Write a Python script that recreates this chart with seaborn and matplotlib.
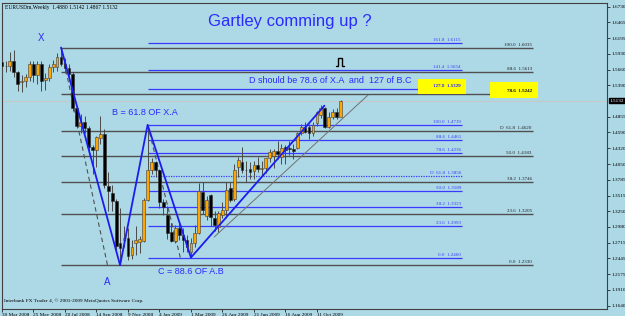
import matplotlib
matplotlib.use("Agg")
import matplotlib.pyplot as plt
import seaborn as sns
import pandas as pd
import numpy as np
from matplotlib.patches import Rectangle

# ---------------- data ----------------
opens = [1.5790, 1.5720, 1.5720, 1.5810, 1.5620, 1.5440, 1.5470, 1.5530, 1.5760, 1.5560,
         1.5760, 1.5480, 1.5520, 1.5700, 1.5700, 1.5880, 1.5760, 1.5680, 1.5580, 1.5010,
         1.4700, 1.4770, 1.4670, 1.4340, 1.4290, 1.4490, 1.4560, 1.3680, 1.3560, 1.3420,
         1.2700, 1.2760, 1.2800, 1.2500, 1.2700, 1.2720, 1.2740, 1.3440, 1.3950, 1.4090,
         1.3950, 1.3400, 1.3180, 1.2900, 1.2740, 1.2960, 1.2840, 1.2760, 1.2560, 1.2710,
         1.2880, 1.3570, 1.3160, 1.3520, 1.3130, 1.2980, 1.3190, 1.3270, 1.3640, 1.3450,
         1.4000, 1.4090, 1.3950, 1.3960, 1.3940, 1.4030, 1.3960, 1.3990, 1.4160, 1.4180,
         1.4280, 1.4170, 1.4340, 1.4330, 1.4310, 1.4330, 1.4580, 1.4680, 1.4680, 1.4580,
         1.4750, 1.4890, 1.5000, 1.4680, 1.4860, 1.4940, 1.4860]
highs = [1.5830, 1.5800, 1.5960, 1.6000, 1.5640, 1.5560, 1.5590, 1.5800, 1.5810, 1.5800,
         1.5810, 1.5600, 1.5760, 1.5830, 1.5950, 1.6035, 1.5860, 1.5760, 1.5620, 1.5040,
         1.4900, 1.4870, 1.4700, 1.4370, 1.4530, 1.4867, 1.4640, 1.3920, 1.3690, 1.3460,
         1.3300, 1.3000, 1.2960, 1.2760, 1.3000, 1.2820, 1.3480, 1.4719, 1.4160, 1.4110,
         1.3970, 1.3460, 1.3330, 1.3050, 1.3020, 1.3050, 1.2960, 1.2850, 1.2800, 1.3010,
         1.3730, 1.3740, 1.3500, 1.3540, 1.3250, 1.3260, 1.3400, 1.3740, 1.3740, 1.4050,
         1.4170, 1.4340, 1.4100, 1.4080, 1.4100, 1.4170, 1.4110, 1.4160, 1.4300, 1.4300,
         1.4440, 1.4390, 1.4380, 1.4440, 1.4390, 1.4600, 1.4740, 1.4770, 1.4740, 1.4770,
         1.4950, 1.5060, 1.5030, 1.4940, 1.4990, 1.5010, 1.5142]
lows = [1.5530, 1.5620, 1.5640, 1.5540, 1.5300, 1.5280, 1.5370, 1.5470, 1.5450, 1.5420,
        1.5300, 1.5310, 1.5460, 1.5620, 1.5640, 1.5720, 1.5600, 1.5500, 1.4960, 1.4660,
        1.4580, 1.4580, 1.4220, 1.3880, 1.4000, 1.4400, 1.3640, 1.3260, 1.3260, 1.2560,
        1.2330, 1.2640, 1.2420, 1.2430, 1.2500, 1.2530, 1.2720, 1.3420, 1.3880, 1.3830,
        1.3300, 1.3180, 1.2770, 1.2730, 1.2700, 1.2760, 1.2560, 1.2550, 1.2457, 1.2640,
        1.2860, 1.3200, 1.3100, 1.3000, 1.2920, 1.2890, 1.3140, 1.3140, 1.3400, 1.3430,
        1.3830, 1.3900, 1.3740, 1.3790, 1.3790, 1.3910, 1.3840, 1.3900, 1.4080, 1.3990,
        1.4130, 1.4050, 1.4050, 1.4200, 1.4130, 1.4300, 1.4540, 1.4580, 1.4480, 1.4530,
        1.4700, 1.4830, 1.4660, 1.4660, 1.4820, 1.4820, 1.4867]
closes = [1.5720, 1.5725, 1.5810, 1.5620, 1.5410, 1.5470, 1.5530, 1.5760, 1.5560, 1.5760,
          1.5470, 1.5520, 1.5700, 1.5760, 1.5880, 1.5760, 1.5680, 1.5580, 1.5010, 1.4700,
          1.4770, 1.4670, 1.4340, 1.4290, 1.4510, 1.4560, 1.3700, 1.3600, 1.3420, 1.2650,
          1.2620, 1.2800, 1.2480, 1.2640, 1.2760, 1.2780, 1.3440, 1.3950, 1.4090, 1.3950,
          1.3400, 1.3320, 1.2880, 1.2740, 1.2960, 1.2850, 1.2760, 1.2640, 1.2700, 1.2880,
          1.3600, 1.3270, 1.3440, 1.3150, 1.3010, 1.3220, 1.3270, 1.3610, 1.3440, 1.3950,
          1.4120, 1.3950, 1.3955, 1.3920, 1.4040, 1.3960, 1.3990, 1.4160, 1.4260, 1.4280,
          1.4230, 1.4330, 1.4290, 1.4300, 1.4270, 1.4580, 1.4680, 1.4600, 1.4580, 1.4715,
          1.4940, 1.5000, 1.4680, 1.4850, 1.4940, 1.4860, 1.5132]

date_labels = ["30 Mar 2008", "25 May 2008", "20 Jul 2008", "14 Sep 2008", "9 Nov 2008",
               "4 Jan 2009", "1 Mar 2009", "26 Apr 2009", "21 Jun 2009", "16 Aug 2009",
               "11 Oct 2009"]
date_label_weeks = [0, 8, 16, 24, 32, 40, 48, 56, 64, 72, 80]

price_ticks = [1.6730, 1.6465, 1.6195, 1.5930, 1.5660, 1.5390, 1.4855, 1.4590, 1.4320,
               1.4050, 1.3785, 1.3515, 1.3250, 1.2980, 1.2715, 1.2445, 1.2175, 1.1910, 1.1640]
last_price = 1.5132

# Gartley pattern pivots X, A, B, C, D-leg end
pattern_weeks = [15, 30, 37, 48, 81.9]
pattern_prices = [1.6035, 1.2330, 1.4719, 1.2460, 1.5045]

# Fibonacci X-A (gray)
fibXA_levels = ["0.0", "23.6", "38.2", "50.0", "D  61.8", "78.6", "88.6", "100.0"]
fibXA_prices = [1.2330, 1.3205, 1.3746, 1.4183, 1.4620, 1.5242, 1.5613, 1.6035]
fibXA_span = [15, 134.9]
fibXA_diag_weeks = [15, 26.8]
fibXA_diag_prices = [1.6035, 1.2330]

# Fibonacci B-C (blue)
fibBC_levels = ["0.0", "23.6", "38.2", "50.0", "D  61.8", "78.6", "88.6", "100.0",
                "127.0", "141.4", "161.8"]
fibBC_prices = [1.2460, 1.2993, 1.3323, 1.3589, 1.3856, 1.4236, 1.4461, 1.4719,
                1.5329, 1.5654, 1.6115]
fibBC_span = [37, 116.9]
fibBC_diag_weeks = [37, 45.3]
fibBC_diag_prices = [1.4719, 1.2460]

# thin trend line
trend_weeks = [53.9, 93.0]
trend_prices = [1.2809, 1.5227]

# ---------------- style ----------------
BG = "#ADD8E6"
GRAY = "#505050"
FBLUE = "#3a3aff"
PBLUE = "#1c1cf0"
TBLUE = "#2a2aff"
ORANGE = "#FFA500"

sns.set_theme(style="white")
plt.rcParams["font.family"] = ["Liberation Sans", "DejaVu Sans"]

fig = plt.figure(figsize=(6.25, 3.16), dpi=100)
fig.patch.set_facecolor(BG)
ax = fig.add_axes([2 / 625, 7 / 316, 605 / 625, 306 / 316])
ax.set_facecolor(BG)
ax.set_xlim(0.13, 153.7)
ax.set_ylim(1.1584, 1.6793)

df = pd.DataFrame({"week": np.arange(len(opens)), "open": opens, "high": highs,
                   "low": lows, "close": closes})

# current price line
ax.axhline(last_price, color="#c8c8c8", lw=0.8, zorder=1)

# fib X-A
for lvl, p in zip(fibXA_levels, fibXA_prices):
    ax.hlines(p, fibXA_span[0], fibXA_span[1], color=GRAY, lw=1.0, zorder=2)
    ax.text(fibXA_span[1] - 0.3, p + 0.0015, f"{lvl}  {p:.4f}", ha="right", va="bottom",
            fontsize=3.6, color="#202020", family="Liberation Serif", zorder=6)
ax.plot(fibXA_diag_weeks, fibXA_diag_prices, color=GRAY, lw=0.8, ls=(0, (4, 3)), zorder=2)

# fib B-C
for lvl, p in zip(fibBC_levels, fibBC_prices):
    ls = (0, (1, 1)) if lvl.startswith("D") else "-"
    ax.hlines(p, fibBC_span[0], fibBC_span[1], color=FBLUE, lw=0.9, ls=ls, zorder=2)
    ax.text(fibBC_span[1] - 0.3, p + 0.0015, f"{lvl}  {p:.4f}", ha="right", va="bottom",
            fontsize=3.6, color=FBLUE, family="Liberation Serif", zorder=6)
ax.plot(fibBC_diag_weeks, fibBC_diag_prices, color=GRAY, lw=0.8, ls=(0, (4, 3)), zorder=2)

# trend line
ax.plot(trend_weeks, trend_prices, color="#707070", lw=0.7, zorder=3)

# candles
up = df["close"] >= df["open"]
ax.vlines(df["week"], df["low"], df["high"], color="#4a4a4a", lw=0.7, zorder=4)
body_h = (df["close"] - df["open"]).abs().clip(lower=0.0008)
body_b = df[["open", "close"]].min(axis=1)
ax.bar(df["week"][up], body_h[up], bottom=body_b[up], width=0.7, color=ORANGE,
       edgecolor="#404040", lw=0.4, zorder=5)
ax.bar(df["week"][~up], body_h[~up], bottom=body_b[~up], width=0.7, color="black",
       edgecolor="#303030", lw=0.4, zorder=5)

# pattern lines
pat = pd.DataFrame({"week": pattern_weeks, "price": pattern_prices})
sns.lineplot(data=pat, x="week", y="price", ax=ax, color=PBLUE, lw=1.3, sort=False,
             zorder=6, estimator=None)
ax.set_xlabel("")
ax.set_ylabel("")

# yellow highlight boxes
ax.add_patch(Rectangle((105.6, 1.5240), 12.2, 0.0255, facecolor="#FFFF00",
                       edgecolor="none", zorder=5.5))
ax.add_patch(Rectangle((124.0, 1.5172), 12.2, 0.0272, facecolor="#FFFF00",
                       edgecolor="none", zorder=5.5))
ax.text(116.6, 1.5329 + 0.0015, "127.0  1.5329", ha="right", va="bottom",
        fontsize=3.6, color=FBLUE, family="Liberation Serif", zorder=7)
ax.text(134.6, 1.5242 + 0.0015, "78.6  1.5242", ha="right", va="bottom",
        fontsize=3.6, color="#202020", family="Liberation Serif", zorder=7)

# annotations
ax.text(73.2, 1.6470, "Gartley comming up ?", ha="center", va="center",
        fontsize=12, color=TBLUE, zorder=7)
ax.text(9.8, 1.6197, "X", ha="center", va="center", fontsize=7, color=TBLUE, zorder=7)
ax.text(28.0, 1.4937, "B = 61.8 OF X.A", ha="left", va="center", fontsize=6.5,
        color=TBLUE, zorder=7)
ax.text(39.7, 1.2214, "C = 88.6 OF A.B", ha="left", va="center", fontsize=6.5,
        color=TBLUE, zorder=7)
ax.text(26.8, 1.2043, "A", ha="center", va="center", fontsize=7, color=TBLUE, zorder=7)
ax.text(62.8, 1.5482, "D should be 78.6 of X.A  and  127 of B.C", ha="left", va="center",
        fontsize=6.5, color=TBLUE, zorder=7)

# pulse-shaped arrow symbol (no installed font has the glyph), drawn as a shape
sym_x, sym_y = 85.9, 1.5789
dx, dy = 1.0 / 3.94, 1.0 / 587.4
ax.plot([sym_x - 4 * dx, sym_x - 2.2 * dx, sym_x - 2.2 * dx, sym_x + 2.2 * dx,
         sym_x + 2.2 * dx, sym_x + 4 * dx],
        [sym_y - 4 * dy, sym_y - 4 * dy, sym_y + 4 * dy, sym_y + 4 * dy,
         sym_y - 4 * dy, sym_y - 4 * dy],
        color="black", lw=1.0, solid_joinstyle="miter", zorder=7)

ax.text(0.005, 0.995, "EURUSDm,Weekly  1.4880 1.5142 1.4867 1.5132",
        transform=ax.transAxes, ha="left", va="top", fontsize=4, color="black",
        family="Liberation Serif")
ax.text(0.003, 0.02, "Interbank FX Trader 4, \u00a9 2001-2009 MetaQuotes Software Corp.",
        transform=ax.transAxes, ha="left", va="bottom", fontsize=3.8, color="black",
        family="Liberation Serif")

# axes
ax.yaxis.tick_right()
ax.set_yticks(price_ticks)
ax.set_yticklabels([f"{p:.4f}" for p in price_ticks], fontsize=3.8,
                   family="Liberation Serif")
ax.set_xticks(date_label_weeks)
ax.set_xticklabels(date_labels, fontsize=3.8, family="Liberation Serif", ha="left")
ax.tick_params(axis="y", length=2, width=0.5, pad=1, colors="black", right=True)
ax.tick_params(axis="x", length=2, width=0.5, pad=1, colors="black", bottom=True)
for s in ax.spines.values():
    s.set_color("#404040")
    s.set_linewidth(0.8)

ax.annotate("1.5132", xy=(1.0, last_price), xycoords=("axes fraction", "data"),
            xytext=(2, 0), textcoords="offset points", ha="left", va="center",
            fontsize=3.8, color="white", family="Liberation Serif",
            bbox=dict(boxstyle="square,pad=0.15", fc="black", ec="black"), zorder=8)

fig.savefig("out.png", dpi=100, facecolor=BG)
